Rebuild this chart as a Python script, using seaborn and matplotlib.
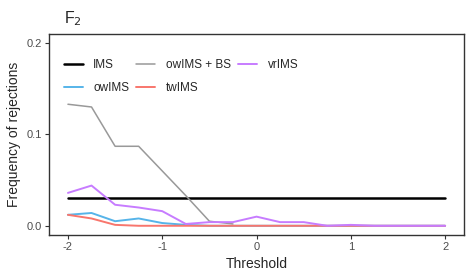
import numpy as np
import pandas as pd
import matplotlib
matplotlib.use("Agg")
import matplotlib.pyplot as plt
import seaborn as sns

# Threshold grid and rejection frequencies
threshold = [-2, -1.75, -1.5, -1.25, -1, -0.75, -0.5, -0.25, 0,
             0.25, 0.5, 0.75, 1, 1.25, 1.5, 1.75, 2]

ims = [0.03] * 17
owims = [0.012, 0.014, 0.005, 0.008, 0.003, 0.001, 0.0, 0.0, 0.0,
         0.0, 0.0, 0.0, 0.0, 0.0, 0.0, 0.0, 0.0]
owims_bs = [0.133, 0.130, 0.087, 0.087, 0.060, 0.033, 0.005, 0.002, np.nan,
            np.nan, np.nan, np.nan, np.nan, np.nan, np.nan, np.nan, np.nan]
twims = [0.012, 0.008, 0.001, 0.0, 0.0, 0.0, 0.0, 0.0, 0.0,
         0.0, 0.0, 0.0, 0.0, 0.0, 0.0, 0.0, 0.0]
vrims = [0.036, 0.044, 0.023, 0.020, 0.016, 0.002, 0.004, 0.004, 0.010,
         0.004, 0.004, 0.0, 0.001, 0.0, 0.0, 0.0, 0.0]

methods = ["IMS", "owIMS", "owIMS + BS", "twIMS", "vrIMS"]
colors = ["#000000", "#56B4E9", "#999999", "#F8766D", "#C77CFF"]
widths = [1.8, 1.4, 1.1, 1.4, 1.4]

df = pd.DataFrame({
    "Threshold": threshold * 5,
    "freq": ims + owims + owims_bs + twims + vrims,
    "method": np.repeat(methods, len(threshold)),
})

sns.set_theme(style="white")
plt.rcParams["font.family"] = ["Liberation Sans", "DejaVu Sans"]

fig = plt.figure(figsize=(4.72, 2.8), dpi=100)
ax = fig.add_axes([0.104, 0.161, 0.879, 0.718])

for m, c, w in zip(methods, colors, widths):
    sub = df[df["method"] == m]
    sns.lineplot(data=sub, x="Threshold", y="freq", color=c, linewidth=w,
                 label=m, ax=ax)

ax.set_xlim(-2.2, 2.2)
ax.set_ylim(-0.01, 0.21)
ax.set_xticks([-2, -1, 0, 1, 2])
ax.set_yticks([0.0, 0.1, 0.2])
ax.set_xticklabels(["-2", "-1", "0", "1", "2"])
ax.set_yticklabels(["0.0", "0.1", "0.2"])
ax.tick_params(axis="both", length=3, width=0.8, color="#333333",
               labelsize=8, labelcolor="#4D4D4D", pad=2, direction="out",
               bottom=True, left=True)
for s in ax.spines.values():
    s.set_color("#333333")
    s.set_linewidth(1.0)

ax.set_xlabel("Threshold", fontsize=10, labelpad=4)
ax.set_ylabel("Frequency of rejections", fontsize=10, labelpad=4)
fig.text(0.136, 0.935, "F$_2$", fontsize=11.5, ha="left", va="center")

ax.legend(loc="upper left", bbox_to_anchor=(0.024, 0.9), ncol=3,
          frameon=False, fontsize=8.5, handlelength=1.6, handletextpad=0.9,
          columnspacing=0.6, labelspacing=0.95, borderaxespad=0.0)

fig.savefig("out.png", dpi=100)
